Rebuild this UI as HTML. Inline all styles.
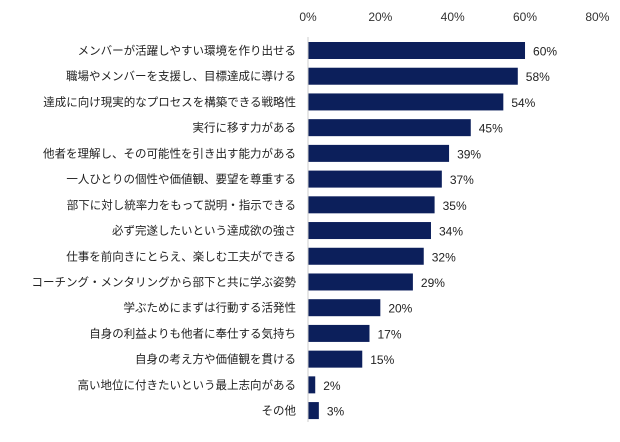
<!DOCTYPE html>
<html><head><meta charset="utf-8"><style>
body{margin:0;background:#fff}
svg{display:block;font-family:"Liberation Sans","Noto Sans CJK JP",sans-serif}
</style></head><body>
<svg width="620" height="442" id="c"></svg>
<script>
const categories=["メンバーが活躍しやすい環境を作り出せる","職場やメンバーを支援し、目標達成に導ける","達成に向け現実的なプロセスを構築できる戦略性","実行に移す力がある","他者を理解し、その可能性を引き出す能力がある","一人ひとりの個性や価値観、要望を尊重する","部下に対し統率力をもって説明・指示できる","必ず完遂したいという達成欲の強さ","仕事を前向きにとらえ、楽しむ工夫ができる","コーチング・メンタリングから部下と共に学ぶ姿勢","学ぶためにまずは行動する活発性","自身の利益よりも他者に奉仕する気持ち","自身の考え方や価値観を貫ける","高い地位に付きたいという最上志向がある","その他"];
const values=[60,58,54,45,39,37,35,34,32,29,20,17,15,2,3];
const ticks=[0,20,40,60,80];
const svg=document.getElementById('c');const NS="http://www.w3.org/2000/svg";
const x0=308,sc=3.617,top0=42,step=25.72,bh=17;
const xs=v=>x0+v*sc, ys=i=>top0+i*step;
function mk(t,a){const e=document.createElementNS(NS,t);for(const k in a)e.setAttribute(k,a[k]);svg.appendChild(e);return e;}
ticks.forEach(t=>{const e=mk('text',{x:xs(t),y:21,'text-anchor':'middle','font-size':12,fill:'#333'});e.textContent=t+'%';

});
categories.forEach((c,i)=>{
const r=mk('rect',{x:x0,y:ys(i),width:values[i]*sc,height:bh,fill:'#0c1f5b'});


const l=mk('text',{x:296,y:ys(i)+bh/2+4,'text-anchor':'end','font-size':11.5,fill:'#222'});l.textContent=c;


const v=mk('text',{x:xs(values[i])+8,y:ys(i)+bh/2+5,'font-size':12,fill:'#222'});v.textContent=values[i]+'%';


});
const ax=mk('line',{x1:x0,x2:x0,y1:37,y2:422,stroke:'#ccc','stroke-width':1});


</script>
</body></html>
